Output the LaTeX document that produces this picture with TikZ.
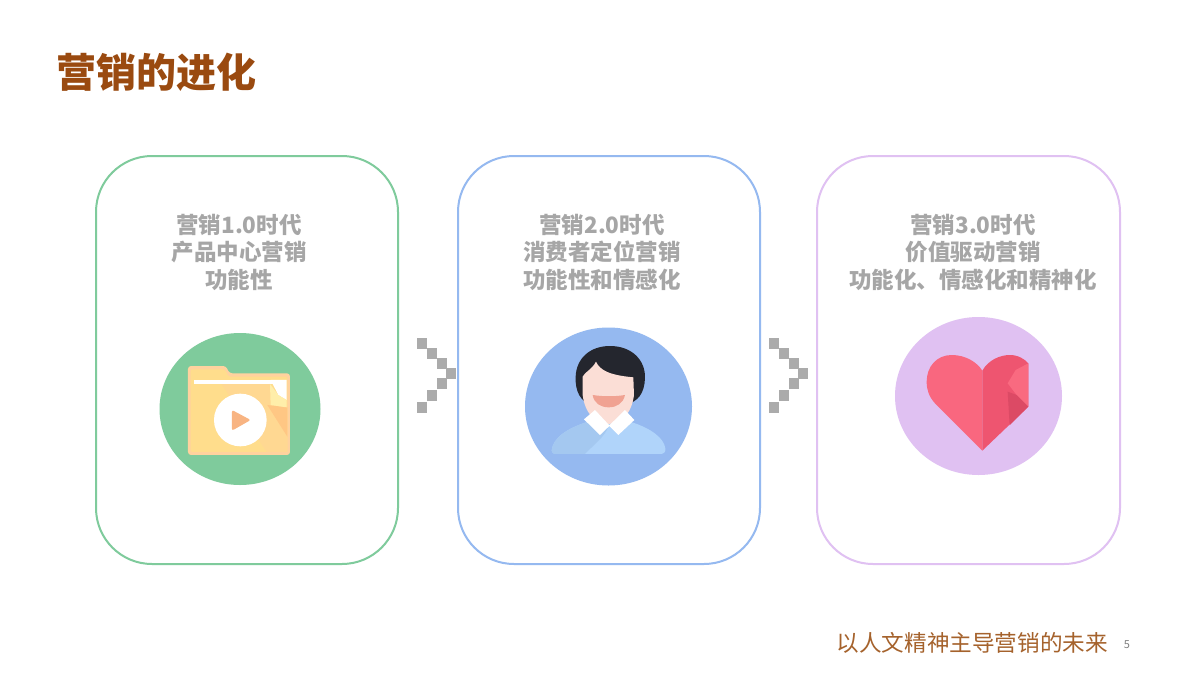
\documentclass[tikz,border=0pt]{standalone}
\usepackage{fontspec}
\setmainfont{Noto Sans CJK SC}
\definecolor{titlec}{HTML}{9A4A10}
\definecolor{footc}{HTML}{A5622C}
\definecolor{textg}{HTML}{A6A6A6}
\definecolor{chev}{HTML}{ABABAB}
\definecolor{greenc}{HTML}{7FCB9C}
\definecolor{bluec}{HTML}{95B9F0}
\definecolor{purpc}{HTML}{E0C1F2}
\definecolor{foldedge}{HTML}{FFD29E}
\definecolor{foldmain}{HTML}{FFDD8C}
\definecolor{foldshade}{HTML}{FFD892}
\definecolor{folddark}{HTML}{FFC784}
\definecolor{foldpale}{HTML}{FFEEAA}
\definecolor{playc}{HTML}{F8B482}
\definecolor{shirt}{HTML}{B0D4FA}
\definecolor{shirtd}{HTML}{A4C8F0}
\definecolor{hair}{HTML}{24262E}
\definecolor{skin}{HTML}{FBDED6}
\definecolor{mouth}{HTML}{F0A292}
\definecolor{heartl}{HTML}{F9677F}
\definecolor{heartr}{HTML}{EE5570}
\definecolor{heartf}{HTML}{F96A80}
\definecolor{heartd}{HTML}{DC4A65}
\tikzset{
  cardbox/.style={draw=#1,line width=2pt,rounded corners=56pt,fill=white},
  cardtext/.style={text=textg,font=\fontsize{22.5}{27.5}\selectfont\bfseries,align=center,anchor=center},
  chevsq/.style={fill=chev,draw=none},
  izoom/.style={x=0.3333pt,y=-0.3333pt}
}
\newcommand{\chevron}[1]{%
  \begin{scope}[shift={(#1,338)}]
    \foreach \a/\b in {0/0,10/10,19.5/20,29/30,19.5/40,10/52,0/64}{
      \fill[chevsq] (\a,\b) rectangle ++(10,10.5);
    }
  \end{scope}}
\begin{document}
\begin{tikzpicture}[x=1pt,y=-1pt]
\path[use as bounding box,fill=white] (0,0) rectangle (1200,675);
\node[anchor=west,inner sep=0pt,text=titlec,font=\fontsize{40}{41}\selectfont\bfseries] (title) at (56,72) {营销的进化};

\draw[cardbox=greenc] (96,156) rectangle (398,564);
\draw[cardbox=bluec] (458,156) rectangle (760,564);
\draw[cardbox=purpc] (817,156) rectangle (1120,564);

\node[cardtext] (t1) at (239,252) {营销1.0时代\\产品中心营销\\功能性};
\node[cardtext] (t2) at (602,252) {营销2.0时代\\消费者定位营销\\功能性和情感化};
\node[cardtext] (t3) at (973,252) {营销3.0时代\\价值驱动营销\\功能化、情感化和精神化};

\chevron{417}
\chevron{769}

% folder icon
\fill[greenc] (240,409) ellipse [x radius=80.5,y radius=76];
\begin{scope}[shift={(150,320)},izoom]
  \fill[foldedge,rounded corners=3pt] (114,138) -- (228,138) -- (238,160) -- (420,160) -- (420,405) -- (114,405) -- cycle;
  \fill[foldmain,rounded corners=2pt] (122,148) -- (226,148) -- (234,170) -- (412,170) -- (412,396) -- (122,396) -- cycle;
  \fill[foldshade] (215,192) -- (360,192) -- (412,260) -- (412,396) -- (350,396) -- cycle;
  \fill[folddark] (352,255) -- (412,262) -- (412,350) -- cycle;
  \fill[white] (132,180) rectangle (400,192);
  \fill[white] (362,180) -- (410,180) -- (410,240) -- (385,225) -- cycle;
  \fill[foldpale] (360,192) -- (385,225) -- (410,240) -- (410,262) -- (362,255) -- cycle;
  \fill[white] (271,300) circle [x radius=79,y radius=79];
  \fill[playc,rounded corners=2pt] (246,270) -- (302,300) -- (246,332) -- cycle;
\end{scope}

% person icon
\fill[bluec] (608.5,406.5) ellipse [x radius=83.5,y radius=79];
\begin{scope}[shift={(510,320)},izoom]
  \fill[shirt] (125,392) .. controls (128,355) and (170,325) .. (235,305) -- (360,305) .. controls (425,325) and (462,355) .. (466,385) .. controls (468,398) and (460,402) .. (450,402) -- (140,402) .. controls (130,402) and (125,398) .. (125,392) -- cycle;
  \fill[shirtd] (125,392) .. controls (128,355) and (170,325) .. (235,305) -- (295,320) .. controls (285,350) and (250,375) .. (225,402) -- (140,402) .. controls (130,402) and (125,398) .. (125,392) -- cycle;
  \fill[hair] (300,78) .. controls (365,78) and (407,120) .. (405,175) .. controls (403,220) and (385,245) .. (345,255) -- (245,255) .. controls (212,245) and (195,215) .. (197,170) .. controls (199,115) and (240,78) .. (300,78) -- cycle;
  \fill[skin] (258,125) .. controls (270,150) and (295,165) .. (370,172) -- (372,225) .. controls (365,280) and (335,310) .. (296,312) .. controls (255,310) and (225,280) .. (218,225) -- (218,170) .. controls (225,155) and (245,150) .. (258,125) -- cycle;
  \fill[mouth] (248,225) .. controls (280,230) and (315,230) .. (345,225) .. controls (340,250) and (320,262) .. (296,262) .. controls (272,262) and (252,250) .. (248,225) -- cycle;
  \fill[white] (222,298) -- (255,270) -- (298,316) -- (345,270) -- (373,300) -- (325,345) -- (298,318) -- (270,345) -- cycle;
\end{scope}

% heart icon
\fill[purpc] (978.5,396) ellipse [x radius=83.5,y radius=79];
\begin{scope}[shift={(885,310)},izoom]
  \fill[heartl] (292,422) -- (150,280) .. controls (132,260) and (125,240) .. (125,215) .. controls (125,170) and (155,135) .. (200,135) .. controls (240,135) and (275,155) .. (292,182) -- cycle;
  \fill[heartr] (292,182) .. controls (310,150) and (345,135) .. (375,135) .. controls (400,135) and (420,148) .. (430,160) -- (430,290) -- (292,422) -- cycle;
  \fill[heartf] (430,160) -- (392,180) -- (368,220) -- (395,255) -- (430,290) -- cycle;
  \fill[heartd] (368,245) -- (395,255) -- (430,290) -- (374,346) -- cycle;
\end{scope}

\node[anchor=east,inner sep=0pt,text=footc,font=\fontsize{22.6}{24}\selectfont] (foot) at (1108,642.5) {以人文精神主导营销的未来};
\node[anchor=center,inner sep=0pt,text=gray,font=\fontsize{11}{12}\selectfont] (page) at (1127,645) {5};
\end{tikzpicture}
\end{document}
